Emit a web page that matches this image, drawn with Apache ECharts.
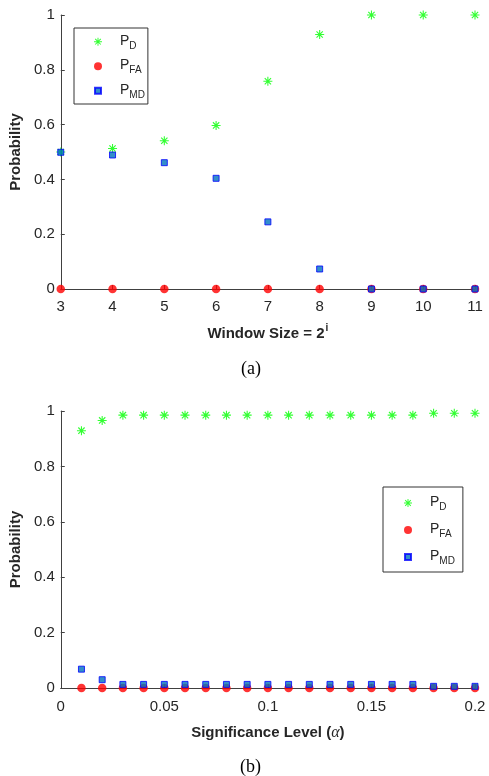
<!DOCTYPE html>
<html>
<head>
<meta charset="utf-8">
<script src="https://cdn.jsdelivr.net/npm/echarts@6/dist/echarts.min.js"></script>
<style>
html,body{margin:0;padding:0;background:#fff;}
#chart{width:489px;height:776px;}
</style>
</head>
<body>
<div id="chart"></div>
<script>
// ---- Data ----
const windowExp = [3, 4, 5, 6, 7, 8, 9, 10, 11];
const pdA  = [0.500, 0.513, 0.541, 0.597, 0.758, 0.929, 1.000, 1.000, 1.000];
const pfaA = [0, 0, 0, 0, 0, 0, 0, 0, 0];
const pmdA = [0.499, 0.489, 0.461, 0.404, 0.245, 0.073, 0.000, 0.000, 0.000];

const alphas = [0.01, 0.02, 0.03, 0.04, 0.05, 0.06, 0.07, 0.08, 0.09, 0.10,
                0.11, 0.12, 0.13, 0.14, 0.15, 0.16, 0.17, 0.18, 0.19, 0.20];
const pdB  = [0.929, 0.966, 0.985, 0.985, 0.985, 0.985, 0.985, 0.985, 0.985, 0.985,
              0.985, 0.985, 0.985, 0.985, 0.985, 0.985, 0.985, 0.992, 0.992, 0.992];
const pfaB = [0, 0, 0, 0, 0, 0, 0, 0, 0, 0, 0, 0, 0, 0, 0, 0, 0, 0, 0, 0];
const pmdB = [0.068, 0.030, 0.013, 0.013, 0.013, 0.013, 0.013, 0.013, 0.013, 0.013,
              0.013, 0.013, 0.013, 0.013, 0.013, 0.013, 0.013, 0.006, 0.006, 0.006];

const seriesNames = ['P_D', 'P_FA', 'P_MD'];

// ---- Styles ----
const TXT = '#262626';
const AX = '#404040';
const FONT = 'Liberation Sans, Arial, sans-serif';
const STAR = 'path://M8.8 0L11.2 0L11.2 20L8.8 20Z M0 8.8L20 8.8L20 11.2L0 11.2Z M2.1 3.9L3.9 2.1L17.9 16.1L16.1 17.9Z M16.1 2.1L17.9 3.9L3.9 17.9L2.1 16.1Z';
const SQUARE_SMALL = 'path://M0 0M8 8M1 1L7 1L7 7L1 7Z';

const chart = echarts.init(document.getElementById('chart'), null, {renderer: 'canvas'});

function pairs(xs, ys) { return xs.map((x, i) => [x, ys[i]]); }

function legendFmt(name) {
  const sub = name.split('_')[1];
  return '{p|P}{s|' + sub + '}';
}
const legendRich = {
  p: {fontSize: 14, lineHeight: 16, verticalAlign: 'top', padding: [0, 0, 0, 13], color: TXT, fontFamily: FONT},
  s: {fontSize: 10, lineHeight: 12, padding: [9, 0, 0, 0], color: TXT, fontFamily: FONT}
};
const legendData = [
  {name: seriesNames[0]},
  {name: seriesNames[1]},
  {name: seriesNames[2], icon: SQUARE_SMALL}
];

function yAxisDef(gi) {
  return {
    gridIndex: gi, type: 'value', min: 0, max: 1, interval: 0.2,
    name: 'Probability', nameLocation: 'middle', nameGap: 29, nameRotate: 90,
    nameTextStyle: {fontSize: 15, fontWeight: 'bold', color: TXT, fontFamily: FONT},
    axisLine: {show: true, lineStyle: {color: AX, width: 1}},
    axisTick: {show: true, inside: true, length: 4, lineStyle: {color: AX}},
    axisLabel: {fontSize: 15, color: TXT, fontFamily: FONT, margin: 6,
      formatter: v => String(parseFloat(v.toFixed(2)))},
    splitLine: {show: false}
  };
}

function scatterSet(gi, xs, pd, pfa, pmd) {
  return [
    {type: 'scatter', name: seriesNames[0], xAxisIndex: gi, yAxisIndex: gi, data: pairs(xs, pd),
     symbol: STAR, symbolSize: 9, itemStyle: {color: '#00ff00'}, clip: false, z: 3},
    {type: 'scatter', name: seriesNames[1], xAxisIndex: gi, yAxisIndex: gi, data: pairs(xs, pfa),
     symbol: 'circle', symbolSize: 8.5, itemStyle: {color: '#ff0000'}, clip: false, z: 4},
    {type: 'scatter', name: seriesNames[2], xAxisIndex: gi, yAxisIndex: gi, data: pairs(xs, pmd),
     symbol: 'rect', symbolSize: 6, itemStyle: {color: '#0072bd', borderColor: '#0000ff', borderWidth: 1}, clip: false, z: 5}
  ];
}

const option = {
  animation: false,
  backgroundColor: '#fff',
  grid: [
    {left: 59, top: 15, width: 416, height: 274, containLabel: false},
    {left: 59, top: 411, width: 416, height: 277, containLabel: false}
  ],
  xAxis: [
    {gridIndex: 0, type: 'value', min: 3, max: 11, interval: 1,
     name: '{b|Window Size = 2}{sup|i}', nameLocation: 'middle', nameGap: 34,
     nameTextStyle: {rich: {
       b: {fontSize: 15, fontWeight: 'bold', color: TXT, fontFamily: FONT, lineHeight: 18, verticalAlign: 'bottom'},
       sup: {fontSize: 10, fontWeight: 'bold', color: TXT, fontFamily: FONT, lineHeight: 12, padding: [0, 0, 7, 1]}
     }},
     axisLine: {show: true, onZero: false, lineStyle: {color: AX, width: 1}},
     axisTick: {show: true, inside: true, length: 4, lineStyle: {color: AX}},
     axisLabel: {fontSize: 15, color: TXT, fontFamily: FONT, margin: 10},
     splitLine: {show: false}},
    {gridIndex: 1, type: 'value', min: 0, max: 0.2, interval: 0.05,
     name: '{b|Significance Level (}{a|α}{b|)}', nameLocation: 'middle', nameGap: 37,
     nameTextStyle: {rich: {
       b: {fontSize: 15, fontWeight: 'bold', color: TXT, fontFamily: FONT},
       a: {fontSize: 16, fontStyle: 'italic', color: TXT, fontFamily: 'Liberation Serif, Times New Roman, serif'}
     }},
     axisLine: {show: true, onZero: false, lineStyle: {color: AX, width: 1}},
     axisTick: {show: true, inside: true, length: 4, lineStyle: {color: AX}},
     axisLabel: {fontSize: 15, color: TXT, fontFamily: FONT, margin: 11,
       formatter: v => String(parseFloat(v.toFixed(3)))},
     splitLine: {show: false}}
  ],
  yAxis: [yAxisDef(0), yAxisDef(1)],
  legend: [
    {data: legendData, orient: 'vertical', left: 74, top: 28, itemWidth: 8, itemHeight: 8, itemGap: 5.5,
     padding: [4.2, 3, 3.8, 19], borderColor: '#333', borderWidth: 1, backgroundColor: '#fff',
     selectedMode: false, formatter: legendFmt, textStyle: {rich: legendRich}},
    {data: legendData, orient: 'vertical', left: 383, top: 487, itemWidth: 8, itemHeight: 8, itemGap: 8,
     padding: [6.5, 8, 5.5, 20], borderColor: '#333', borderWidth: 1, backgroundColor: '#fff',
     selectedMode: false, formatter: legendFmt, textStyle: {rich: legendRich}}
  ],
  graphic: [
    {type: 'text', left: 241, top: 360, style: {text: '(a)', font: '18px "Liberation Serif", "Times New Roman", serif', fill: '#000'}},
    {type: 'text', left: 240, top: 758, style: {text: '(b)', font: '18px "Liberation Serif", "Times New Roman", serif', fill: '#000'}}
  ],
  series: [
    ...scatterSet(0, windowExp, pdA, pfaA, pmdA),
    ...scatterSet(1, alphas, pdB, pfaB, pmdB)
  ]
};
chart.setOption(option);
</script>
</body>
</html>
